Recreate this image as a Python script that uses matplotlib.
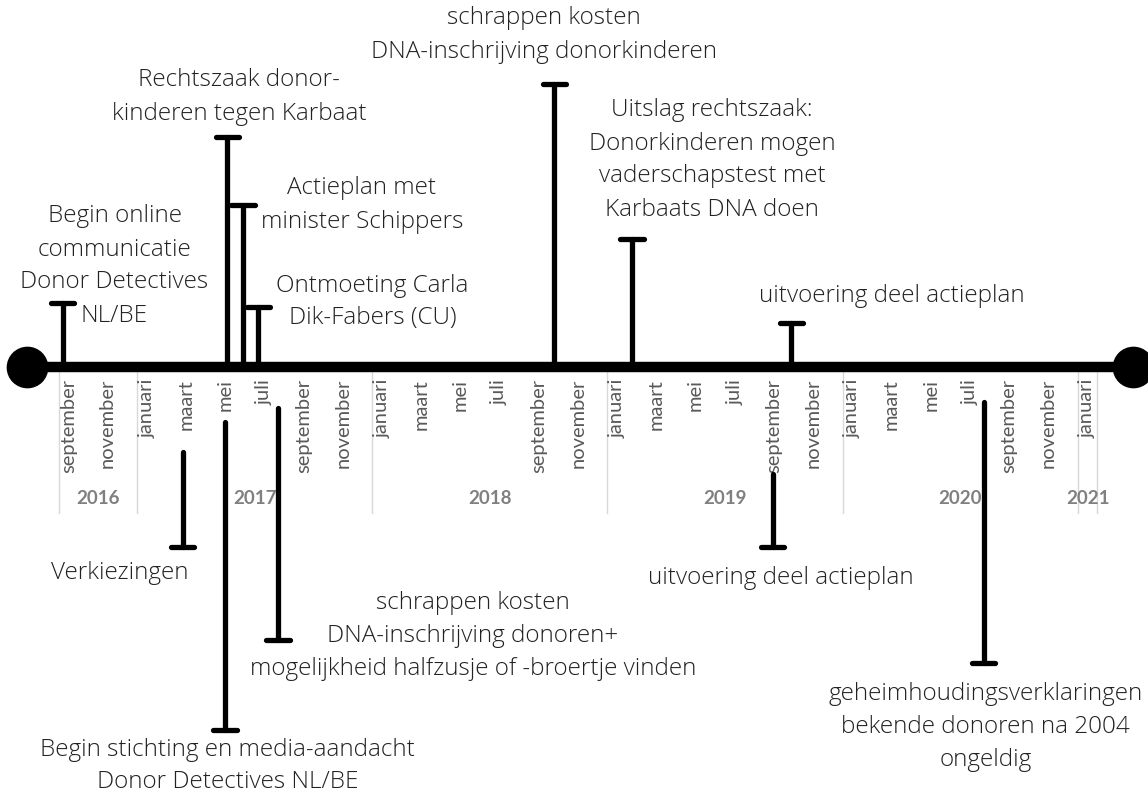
import matplotlib.pyplot as plt
import pandas as pd

# event data
dates = ['2016-09-07', '2017-05-20', '2017-06-13', '2017-07-07', '2018-10-10',
         '2019-02-08', '2019-10-13', '2017-03-11', '2017-05-16', '2017-08-07',
         '2019-09-14', '2020-08-07']
labels = ['Begin online\ncommunicatie\nDonor Detectives\nNL/BE',
          'Rechtszaak donor-\nkinderen tegen Karbaat',
          'Actieplan met\nminister Schippers',
          'Ontmoeting Carla\nDik-Fabers (CU)',
          'schrappen kosten\nDNA-inschrijving donorkinderen',
          'Uitslag rechtszaak:\nDonorkinderen mogen\nvaderschapstest met\nKarbaats DNA doen',
          'uitvoering deel actieplan',
          'Verkiezingen',
          'Begin stichting en media-aandacht\nDonor Detectives NL/BE',
          'schrappen kosten\nDNA-inschrijving donoren+\nmogelijkheid halfzusje of -broertje vinden',
          'uitvoering deel actieplan',
          'geheimhoudingsverklaringen\nbekende donoren na 2004\nongeldig']
sides = ['up', 'up', 'up', 'up', 'up', 'up', 'up',
         'down', 'down', 'down', 'down', 'down']

month_names = ['januari', 'maart', 'mei', 'juli', 'september', 'november']
years = [2016, 2017, 2018, 2019, 2020, 2021]
axis_start = '2016-09-01'
axis_end = '2021-02-01'

# layout (pixels): stem start, stem end, text x offset from stem, text y
layout = [
    (367, 303, 52, 266),
    (367, 137, 12, 97),
    (367, 205, 119, 205),
    (367, 307, 114, 302),
    (367, 84, -10, 35),
    (367, 239, 80, 160),
    (367, 323, 100, 296),
    (452, 547, -63, 573),
    (422, 730, 3, 766),
    (408, 640, 195, 636),
    (474, 547, 8, 578),
    (402, 663, 2, 727),
]


def to_m(d):
    d = pd.Timestamp(d)
    return (d.year - 2016) * 12 + d.month - 1 + (d.day - 1) / d.days_in_month


PX = 19.6  # pixels per month
X0 = 137 - 12 * PX  # pixel of month 0 (jan 2016)

plt.rcParams['font.family'] = ['Open Sans', 'DejaVu Sans']
fig = plt.figure(figsize=(11.48, 7.96), dpi=100)
ax = fig.add_axes([0, 0, 1, 1])
ax.set_xlim(-X0 / PX, (1148 - X0) / PX)
ax.set_ylim(796, 0)
ax.axis('off')

m0 = to_m(axis_start)
m1 = to_m(axis_end)

# main line + end dots
ax.plot([m0 - 1.6, m1 + 1.8], [367, 367], color='black', lw=7.5, solid_capstyle='butt', zorder=3)
ax.plot([m0 - 1.6, m1 + 1.8], [367, 367], 'o', color='black', ms=29, zorder=3)

# month labels
m = m0
while m < m1:
    name = month_names[int(m % 12) // 2]
    ax.text(m + 0.5, 379, name, rotation=90, ha='center', va='top',
            fontsize=14.5, color='#595959', family=['Lato', 'DejaVu Sans'])
    m += 2

# year separators and labels
bounds = [m0] + [to_m(f'{y}-01-01') for y in years[1:]] + [m1]
for b in bounds:
    ax.plot([b, b], [372, 513], color='#d9d9d9', lw=1, zorder=1)
for i, y in enumerate(years):
    ax.text((bounds[i] + bounds[i + 1]) / 2, 498, str(y), ha='center', va='center',
            fontsize=13.5, fontweight='bold', color='#808080', family=['Lato', 'DejaVu Sans'])

# events
for d, lab, side, (ys, ye, dx, ty) in zip(dates, labels, sides, layout):
    x = to_m(d)
    ax.plot([x, x], [ys, ye], color='black', lw=3.8, solid_capstyle='round', zorder=4)
    ax.plot([x - 0.6, x + 0.6], [ye, ye], color='black', lw=3.8, solid_capstyle='round', zorder=4)
    ax.text(x + dx / PX, ty, lab, ha='center', va='center', fontsize=17.5,
            fontweight='light', color='#222222', linespacing=1.5)

fig.savefig('out.png', dpi=100, facecolor='white')
